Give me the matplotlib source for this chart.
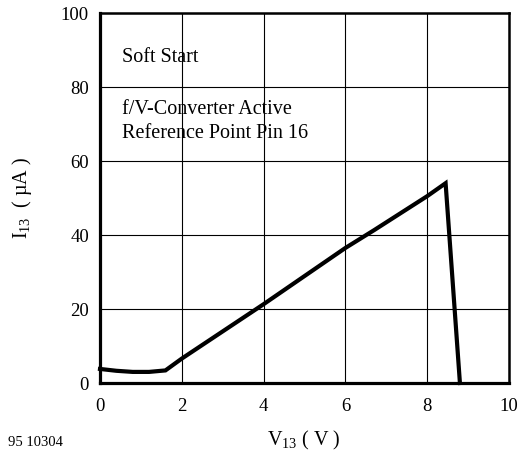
import matplotlib
matplotlib.use('Agg')
import matplotlib.pyplot as plt

# 曲线数据 (V13 / V, I13 / uA)
v13 = [0.0, 0.4, 0.8, 1.2, 1.6, 2.0, 4.0, 6.0, 6.7, 8.0, 8.45, 8.8]
i13 = [3.8, 3.3, 3.0, 3.0, 3.4, 6.6, 21.3, 36.5, 41.3, 50.5, 54.0, 0.0]

x_ticks = [0, 2, 4, 6, 8, 10]
y_ticks = [0, 20, 40, 60, 80, 100]

plt.rcParams['font.family'] = ['Liberation Serif', 'DejaVu Serif']
plt.rcParams['mathtext.fontset'] = 'custom'
plt.rcParams['mathtext.rm'] = 'Liberation Serif'
plt.rcParams['mathtext.it'] = 'Liberation Serif:italic'

fig = plt.figure(figsize=(5.21, 4.59), dpi=100)
ax = fig.add_axes([100 / 521, 1 - 383 / 459, 409 / 521, 370 / 459])

ax.plot(v13, i13, color='black', linewidth=3.0, solid_joinstyle='miter', clip_on=False, zorder=3)

ax.set_xlim(0, 10)
ax.set_ylim(0, 100)
ax.set_xticks(x_ticks)
ax.set_yticks(y_ticks)
ax.tick_params(axis='both', length=0, labelsize=13.5)
ax.tick_params(axis='x', pad=11)
ax.tick_params(axis='y', pad=8)
ax.grid(True, color='black', linewidth=0.8)

for side in ['left', 'bottom']:
    ax.spines[side].set_linewidth(2.3)
for side in ['top', 'right']:
    ax.spines[side].set_linewidth(1.8)

ax.text(0.55, 88, 'Soft Start', fontsize=14.5, va='center')
ax.text(0.55, 74, 'f/V-Converter Active', fontsize=14.5, va='center')
ax.text(0.55, 67.3, 'Reference Point Pin 16', fontsize=14.5, va='center')

fig.text(22 / 521, 1 - 198 / 459, r'I$_{\mathrm{13}}$  ( µA )', rotation=90,
         fontsize=14.5, ha='center', va='center')
fig.text(304 / 521, 1 - 440 / 459, r'V$_{\mathrm{13}}$ ( V )', fontsize=14.5,
         ha='center', va='center')
fig.text(8 / 521, 1 - 443 / 459, '95 10304', fontsize=10.5, ha='left', va='center')

fig.savefig('out.png', dpi=100)
